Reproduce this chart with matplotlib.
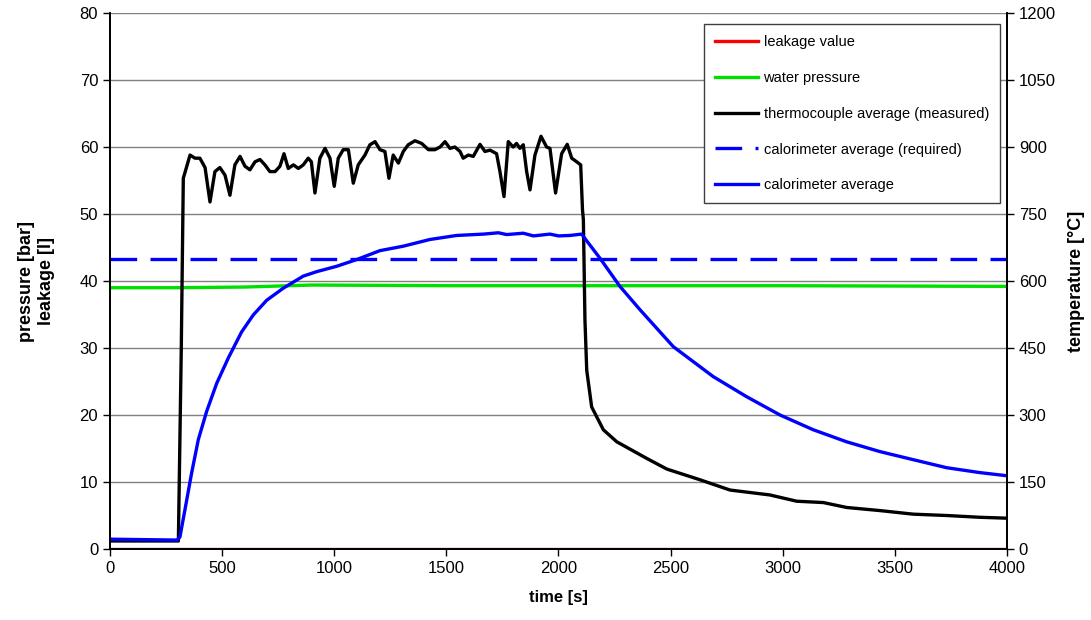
import numpy as np
import matplotlib.pyplot as plt

plt.rcParams['font.family'] = ['Liberation Sans', 'DejaVu Sans']

# time [s] and values
leak_t = [0, 4000]
leak_val = [0, 0]

water_t = [0, 300, 600, 900, 1500, 2100, 3000, 4000]
water_val = [39.0, 39.0, 39.1, 39.4, 39.3, 39.3, 39.3, 39.2]

thermo_t = [0, 300, 305, 318, 327, 357, 379, 401, 424, 446, 468, 490, 513, 535, 557,
            580, 602, 624, 647, 669, 691, 713, 736, 758, 776, 795, 818, 840, 862, 884,
            898, 914, 936, 959, 981, 1000, 1018, 1040, 1063, 1085, 1107, 1137, 1159,
            1182, 1204, 1226, 1244, 1263, 1286, 1308, 1330, 1360, 1390, 1420, 1449,
            1472, 1494, 1516, 1538, 1561, 1575, 1598, 1620, 1650, 1672, 1695, 1724,
            1739, 1757, 1776, 1798, 1813, 1828, 1843, 1858, 1873, 1895, 1922, 1947,
            1962, 1987, 2014, 2039, 2059, 2081, 2099, 2107, 2111, 2118, 2126, 2148,
            2200, 2260, 2393, 2483, 2631, 2765, 2943, 3062, 3181, 3285, 3434, 3582,
            3731, 3880, 4000]
thermo_val = [18, 18, 18, 450, 830, 882, 875, 875, 854, 777, 845, 854, 837, 792, 860,
              879, 857, 849, 867, 872, 860, 845, 845, 857, 885, 852, 860, 852, 860, 875,
              867, 797, 875, 897, 875, 812, 875, 894, 894, 819, 860, 882, 905,
              912, 894, 890, 830, 882, 864, 890, 905, 914, 908, 894, 894,
              900, 912, 897, 900, 890, 875, 882, 879, 906, 890, 893, 885,
              845, 789, 912, 900, 908, 897, 905, 845, 804, 882, 924, 900,
              897, 797, 885, 906, 875, 867, 860, 760, 737, 513, 400, 318,
              267, 240, 203, 179, 155, 132, 121, 107, 104, 93, 86, 78,
              75, 71, 69]

req_t = [0, 4000]
req_val = [650, 650]

calo_t = [0, 300, 312, 334, 364, 394, 431, 476, 528, 587, 639, 699, 773, 862, 922,
          1011, 1100, 1204, 1308, 1427, 1546, 1665, 1732, 1769, 1843, 1888, 1962,
          2000, 2051, 2103, 2185, 2274, 2363, 2512, 2690, 2839, 2988, 3136, 3285,
          3434, 3582, 3731, 3880, 4000]
calo_val = [22, 20, 27, 87, 170, 245, 308, 371, 428, 486, 524, 557, 584, 611, 621,
            633, 648, 668, 678, 693, 702, 705, 708, 704, 707, 701, 705,
            701, 702, 705, 651, 588, 536, 453, 386, 341, 300, 267, 240,
            218, 200, 182, 171, 164]

fig, ax = plt.subplots(figsize=(10.91, 6.2), dpi=100)
fig.subplots_adjust(left=0.1008, right=0.923, top=0.979, bottom=0.1145)
ax2 = ax.twinx()

lw = 2.4
h1, = ax.plot(leak_t, leak_val, color='#ff0000', lw=lw, label='leakage value')
h2, = ax.plot(water_t, water_val, color='#00e000', lw=lw, label='water pressure')
h3, = ax2.plot(thermo_t, thermo_val, color='black', lw=lw, label='thermocouple average (measured)')
h4, = ax2.plot(req_t, req_val, color='#0000ff', lw=lw, dashes=(8, 4), label='calorimeter average (required)')
h5, = ax2.plot(calo_t, calo_val, color='#0000ff', lw=lw, label='calorimeter average')

ax.set_xlim(0, 4000)
ax.set_ylim(0, 80)
ax2.set_ylim(0, 1200)
ax.set_xticks(np.arange(0, 4001, 500))
ax.set_yticks(np.arange(0, 81, 10))
ax2.set_yticks(np.arange(0, 1201, 150))

ax.yaxis.grid(True, color='#808080', lw=1)
ax.set_axisbelow(True)
for a in (ax, ax2):
    a.tick_params(direction='out', length=5, width=1, labelsize=12, colors='black')
    a.spines['top'].set_visible(False)
    for s in ('left', 'right', 'bottom'):
        a.spines[s].set_linewidth(1.3)

ax.set_xlabel('time [s]', fontsize=12, fontweight='bold', labelpad=10)
ax.set_ylabel('pressure [bar]\nleakage [l]', fontsize=13, fontweight='bold', labelpad=18)
ax2.set_ylabel('temperature [°C]', fontsize=13, fontweight='bold', labelpad=9)

leg = ax2.legend(handles=[h1, h2, h3, h4, h5], loc='upper right',
                 bbox_to_anchor=(0.992, 0.9795), borderaxespad=0, fontsize=10.5,
                 labelspacing=1.5, handlelength=3.0, handletextpad=0.35, borderpad=0.75,
                 fancybox=False, framealpha=1, edgecolor='#404040')
leg.get_frame().set_linewidth(1)

fig.savefig('out.png', dpi=100)
